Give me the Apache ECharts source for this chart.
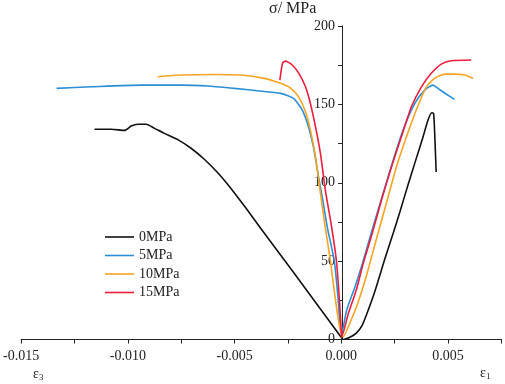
<!DOCTYPE html>
<html>
<head>
<meta charset="utf-8">
<script src="https://cdn.jsdelivr.net/npm/echarts@6/dist/echarts.min.js"></script>
<style>
  html, body { margin: 0; padding: 0; background: #fff; }
  #chart { width: 505px; height: 384px; }
</style>
</head>
<body>
<div id="chart"></div>
<script>
// confining pressure groups
const names = ['0MPa', '5MPa', '10MPa', '15MPa'];
const colors = ['#111111', '#2a8fd6', '#f7a422', '#ee1d3c'];

// [strain, stress MPa]: eps3 branch (left) then eps1 branch (right)
const curve0 = [
  [-0.01156, 134.1], [-0.01077, 134.1], [-0.01015, 133.4], [-0.00984, 136.2], [-0.00953, 137.3],
  [-0.00914, 137.3], [-0.00875, 134.7], [-0.00829, 131.5], [-0.00766, 127.5], [-0.00704, 122.0],
  [-0.00642, 115.0], [-0.0058, 106.5], [-0.00518, 96.5], [-0.00448, 84.0], [-0.00378, 71.0],
  [-0.00284, 53.8], [-0.00191, 36.7], [-0.00098, 19.5], [-0.00005, 2.2],
  [0.00009, 0], [0.00042, 1.6], [0.0007, 4.1], [0.00098, 9.2], [0.00126, 18.8], [0.00159, 31.6],
  [0.00205, 52.0], [0.00243, 67.9], [0.00275, 81.8], [0.00312, 98.6], [0.00345, 113.0],
  [0.00378, 127.2], [0.00406, 140.0], [0.00423, 144.7], [0.00432, 144.1],
  [0.00437, 131.7], [0.00444, 106.8]
];
const curve5 = [
  [-0.01334, 160.2], [-0.01171, 161.2], [-0.00937, 162.3], [-0.00751, 162.3], [-0.00626, 161.7],
  [-0.00502, 160.2], [-0.00393, 158.7], [-0.00284, 157.0], [-0.00224, 153.8], [-0.00183, 146.4],
  [-0.00154, 135.7], [-0.00131, 123.0], [-0.00107, 103.8], [-0.0009, 91.1], [-0.00065, 71.1],
  [-0.00033, 50.0], [-0.00016, 27.1], [-0.00005, 7.3],
  [0.00001, 4.0], [0.00025, 18.8], [0.00064, 33.7], [0.00098, 48.2], [0.0014, 67.9],
  [0.00196, 93.4], [0.00243, 114.5], [0.00289, 133.6], [0.00344, 150.6], [0.0039, 159.1],
  [0.00429, 162.3], [0.00452, 160.2], [0.00491, 156.6], [0.0053, 153.2]
];
const curve10 = [
  [-0.0086, 167.6], [-0.00751, 168.7], [-0.00596, 169.1], [-0.00471, 168.7], [-0.00362, 166.6],
  [-0.00284, 163.4], [-0.00238, 160.4], [-0.00201, 154.9], [-0.00168, 145.3], [-0.00145, 133.6],
  [-0.00121, 116.6], [-0.00098, 93.4], [-0.00075, 71.1], [-0.00051, 50.0], [-0.0003, 27.7],
  [-0.00009, 8.6],
  [0.00009, 1.8], [0.00042, 11.2], [0.00079, 23.9], [0.00121, 42.4], [0.00163, 63.5],
  [0.00215, 89.0], [0.00258, 110.2], [0.00305, 129.3], [0.00351, 146.4], [0.00398, 161.2],
  [0.00437, 166.6], [0.00484, 169.3], [0.0053, 169.3], [0.00577, 168.7], [0.00616, 166.6]
];
const curve15 = [
  [-0.00288, 165.5], [-0.00275, 176.5], [-0.00261, 177.6], [-0.0023, 175.1], [-0.00199, 169.8],
  [-0.00168, 161.2], [-0.00145, 150.6], [-0.00121, 135.7], [-0.00098, 118.8], [-0.00075, 95.3],
  [-0.00047, 73.0], [-0.00023, 50.1], [-0.00009, 25.2], [0, 4.1],
  [0.00001, 1.8], [0.00033, 16.7], [0.0007, 31.6], [0.00103, 48.8], [0.00145, 67.9],
  [0.00188, 89.0], [0.00235, 110.2], [0.00281, 129.3], [0.00328, 148.5], [0.00375, 161.2],
  [0.00421, 169.8], [0.00468, 175.7], [0.00514, 177.8], [0.00608, 178.3]
];
const curves = [curve0, curve5, curve10, curve15];

const font = 'Liberation Serif, Times New Roman, serif';
const axisColor = '#222';

const xMin = -0.015, xMax = 0.0075;
const gridLeft = 20, gridRight = 3.5;
// pixel distance from the grid's left edge to strain 0, so the stress axis sits there
const zeroOffset = (505 - gridLeft - gridRight) * (0 - xMin) / (xMax - xMin);

let chart = echarts.init(document.getElementById('chart'));
let option = {
  backgroundColor: '#fff',
  animation: false,
  textStyle: { fontFamily: font },
  grid: { left: gridLeft, right: gridRight, top: 26, bottom: 44.5 },
  legend: {
    orient: 'vertical',
    left: 100,
    top: 225,
    icon: 'rect',
    itemWidth: 29,
    itemHeight: 1.6,
    itemGap: 4.5,
    data: names,
    textStyle: { fontFamily: font, fontSize: 14, color: '#222', lineHeight: 14 }
  },
  xAxis: {
    type: 'value',
    min: xMin,
    max: xMax,
    interval: 0.005,
    splitLine: { show: false },
    axisLine: { onZero: false, lineStyle: { color: axisColor, width: 1 } },
    axisTick: { length: 4, lineStyle: { color: axisColor } },
    minorTick: { show: true, splitNumber: 2, length: 4, lineStyle: { color: axisColor } },
    axisLabel: {
      fontFamily: font, fontSize: 14, color: '#222', margin: 10,
      formatter: function (v) {
        const k = Math.round(v / 0.005);
        if (Math.abs(v - k * 0.005) > 1e-9) return '';
        return (k * 0.005).toFixed(3);
      }
    }
  },
  yAxis: {
    type: 'value',
    position: 'left',
    offset: -zeroOffset,
    min: 0,
    max: 200,
    interval: 50,
    splitLine: { show: false },
    axisLine: { show: true, onZero: false, lineStyle: { color: axisColor, width: 1 } },
    axisTick: { length: 4, lineStyle: { color: axisColor } },
    minorTick: { show: true, splitNumber: 2, length: 4, lineStyle: { color: axisColor } },
    axisLabel: { fontFamily: font, fontSize: 14, color: '#222', margin: 7 }
  },
  graphic: [
    { type: 'text', left: 269, top: 1, style: { text: 'σ/ MPa', font: '16px ' + font, fill: '#222' } },
    {
      type: 'text', left: 33, top: 367,
      style: {
        text: '{a|ε}{b|3}', fill: '#222',
        rich: { a: { fontFamily: font, fontSize: 14 }, b: { fontFamily: font, fontSize: 9, padding: [8, 0, 0, 0] } }
      }
    },
    {
      type: 'text', left: 480, top: 366,
      style: {
        text: '{a|ε}{b|1}', fill: '#222',
        rich: { a: { fontFamily: font, fontSize: 14 }, b: { fontFamily: font, fontSize: 9, padding: [8, 0, 0, 0] } }
      }
    }
  ],
  series: curves.map(function (c, i) {
    return {
      name: names[i],
      type: 'line',
      data: c,
      symbol: 'none',
      smooth: 0.2,
      lineStyle: { color: colors[i], width: 1.6 },
      itemStyle: { color: colors[i] }
    };
  })
};
chart.setOption(option);
</script>
</body>
</html>
